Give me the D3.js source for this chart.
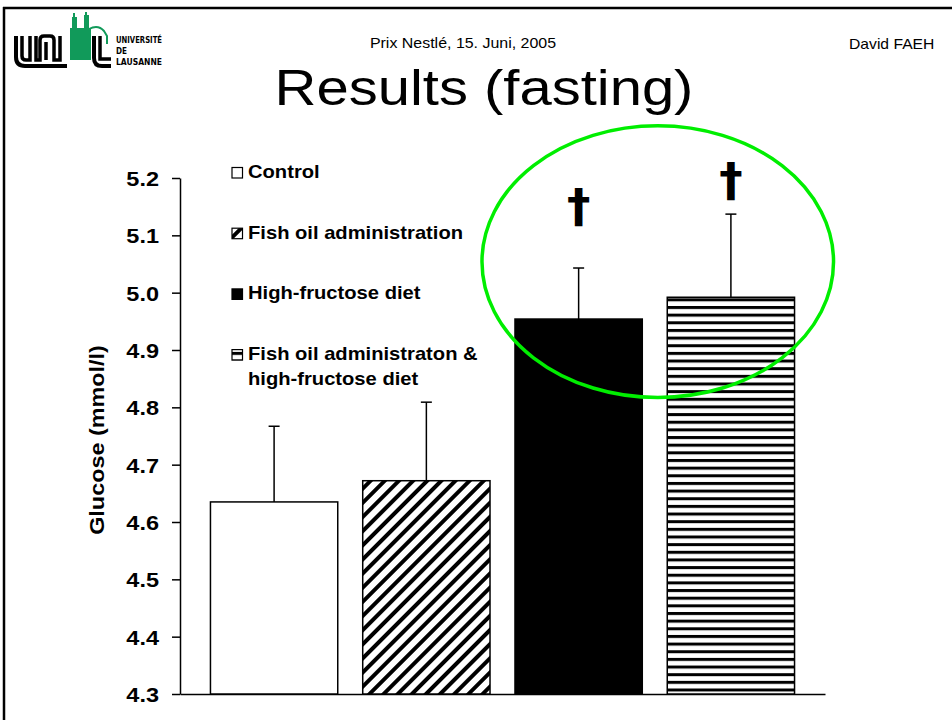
<!DOCTYPE html>
<html>
<head>
<meta charset="utf-8">
<script src="https://cdnjs.cloudflare.com/ajax/libs/d3/7.8.5/d3.min.js"></script>
<style>
  html, body { margin: 0; padding: 0; background: #fff; }
  #chart { width: 952px; height: 720px; }
  text { font-family: "Liberation Sans", Arial, sans-serif; }
</style>
</head>
<body>
<div id="chart"></div>
<script>
// data
var groups = ['Control', 'Fish oil', 'High-fructose', 'Fish oil + high-fructose'];
var means = [4.635, 4.672, 4.954, 4.992];
var sems = [0.132, 0.137, 0.089, 0.145];
var fills = ['white', 'url(#hatchDiag)', 'black', 'url(#hatchHoriz)'];
var marks = ['', '', '\u2020', '\u2020'];
var markValues = [null, null, 5.118, 5.163];
var yTicks = [4.3, 4.4, 4.5, 4.6, 4.7, 4.8, 4.9, 5.0, 5.1, 5.2];
var legendLines = [['Control'], ['Fish oil administration'], ['High-fructose diet'], ['Fish oil administraton &', 'high-fructose diet']];
var highlightCenter = 5.054, highlightHalf = 0.237;

var svgWidth = 952, svgHeight = 720;
var svg = d3.select('#chart')
    .append('svg')
    .attr('width', svgWidth)
    .attr('height', svgHeight);

var defs = svg.append('defs');
var diag = defs.append('pattern')
    .attr('id', 'hatchDiag')
    .attr('patternUnits', 'userSpaceOnUse')
    .attr('width', 10).attr('height', 10)
    .attr('patternTransform', 'rotate(45)');
diag.append('rect').attr('width', 10).attr('height', 10).attr('fill', 'white');
diag.append('rect').attr('width', 4).attr('height', 10).attr('fill', 'black');
var horiz = defs.append('pattern')
    .attr('id', 'hatchHoriz')
    .attr('patternUnits', 'userSpaceOnUse')
    .attr('width', 8).attr('height', 7.65);
horiz.append('rect').attr('width', 8).attr('height', 7.65).attr('fill', 'white');
horiz.append('rect').attr('width', 8).attr('height', 3).attr('fill', 'black');

// slide frame
svg.append('line').attr('x1', 3).attr('x2', svgWidth).attr('y1', 8).attr('y2', 8)
    .attr('stroke', 'black').attr('stroke-width', 2.5);
svg.append('line').attr('x1', 4).attr('x2', 4).attr('y1', 7).attr('y2', svgHeight)
    .attr('stroke', 'black').attr('stroke-width', 2.5);

// stretched text helper (slide fonts are wider than they are tall)
function stretched(g, x, y, sx, anchor, txt, size, weight) {
    return g.append('text')
        .attr('transform', 'translate(' + x + ',' + y + ') scale(' + sx + ',1)')
        .attr('text-anchor', anchor)
        .style('font-size', size + 'px')
        .style('font-weight', weight)
        .style('fill', 'black')
        .text(txt);
}

// header
stretched(svg, 463, 48, 1.14, 'middle', 'Prix Nestlé, 15. Juni, 2005', 14, 'normal');
stretched(svg, 849, 49, 1.12, 'start', 'David FAEH', 14, 'normal');
stretched(svg, 484, 105, 1.16, 'middle', 'Results (fasting)', 50, 'normal');

// logo
var logo = svg.append('g').attr('id', 'logo');
var green = '#119a5a';
logo.append('rect').attr('x', 70).attr('y', 28).attr('width', 21).attr('height', 32).attr('fill', green);
logo.append('rect').attr('x', 72).attr('y', 17).attr('width', 5).attr('height', 12).attr('fill', green);
logo.append('rect').attr('x', 73).attr('y', 13).attr('width', 2).attr('height', 5).attr('fill', green);
logo.append('rect').attr('x', 84).attr('y', 15).attr('width', 5).attr('height', 14).attr('fill', green);
logo.append('rect').attr('x', 85).attr('y', 12).attr('width', 2).attr('height', 4).attr('fill', green);
logo.append('path').attr('d', 'M89,29 Q98,24 104,31 L107,36 V44')
    .attr('fill', 'none').attr('stroke', green).attr('stroke-width', 2);
var ink = 'black';
logo.append('path').attr('d', 'M16,36 V57 Q16,66 25,66 H67')
    .attr('fill', 'none').attr('stroke', ink).attr('stroke-width', 4);
logo.append('path').attr('d', 'M22,36 V56 Q22,60 26,60 H30 V36 M36,36 V60 H40 V40 Q40,36 44,36 H50 Q54,36 54,40 V60 H60 V36')
    .attr('fill', 'none').attr('stroke', ink).attr('stroke-width', 3.5);
logo.append('path').attr('d', 'M46,42 V60')
    .attr('fill', 'none').attr('stroke', ink).attr('stroke-width', 3.5);
logo.append('path').attr('d', 'M94,36 V58 Q94,66 102,66 H111')
    .attr('fill', 'none').attr('stroke', ink).attr('stroke-width', 4);
logo.append('path').attr('d', 'M100,36 V59 H111')
    .attr('fill', 'none').attr('stroke', ink).attr('stroke-width', 3.5);
var logoText = [['UNIVERSITÉ', 43, 46], ['DE', 54, 11], ['LAUSANNE', 65, 46]];
logo.selectAll('.lt').data(logoText).enter().append('text')
    .attr('class', 'lt')
    .attr('x', 116).attr('y', function (d) { return d[1]; })
    .attr('textLength', function (d) { return d[2]; })
    .attr('lengthAdjust', 'spacingAndGlyphs')
    .style('font-family', '"DejaVu Sans", sans-serif')
    .style('font-size', '9px').style('font-weight', 'bold')
    .text(function (d) { return d[0]; });

// scales and axes
var yScale = d3.scaleLinear().domain([4.3, 5.2]).range([694, 178]);
var xScale = d3.scaleBand()
    .domain(groups)
    .range([180, 825])
    .paddingInner(0.164)
    .paddingOuter(0.2);

var gy = svg.append('g').attr('transform', 'translate(180,0)');
gy.call(d3.axisLeft(yScale).tickValues(yTicks).tickFormat(d3.format('.1f')).tickSize(8).tickSizeOuter(0));
gy.select('.domain').attr('stroke-width', 1.5);
gy.selectAll('.tick line').attr('stroke-width', 1.5);
gy.selectAll('.tick text')
    .attr('x', 0).attr('dy', null).attr('y', 7.5)
    .attr('transform', 'translate(-21,0) scale(1.12,1)')
    .style('font-size', '21px').style('font-weight', 'bold')
    .style('font-family', '"Liberation Sans", Arial, sans-serif')
    .attr('fill', 'black');

var gx = svg.append('g').attr('transform', 'translate(0,694)');
gx.call(d3.axisBottom(xScale).tickValues([]).tickSizeOuter(0));
gx.select('.domain').attr('stroke-width', 1.5);

// y label
svg.append('text')
    .attr('transform', 'translate(104,440) rotate(-90) scale(1.17,1)')
    .attr('text-anchor', 'middle')
    .style('font-size', '20px').style('font-weight', 'bold')
    .text('Glucose (mmol/l)');

// bars
var bw = xScale.bandwidth();
svg.append('g').selectAll('rect')
    .data(groups)
    .enter()
    .append('rect')
    .attr('x', function (d) { return xScale(d); })
    .attr('y', function (d, i) { return yScale(means[i]); })
    .attr('width', bw)
    .attr('height', function (d, i) { return yScale(4.3) - yScale(means[i]); })
    .attr('fill', function (d, i) { return fills[i]; })
    .attr('stroke', 'black')
    .attr('stroke-width', 1.5);

// error bars (upper only)
var eg = svg.append('g').attr('stroke', 'black').attr('stroke-width', 1.5);
eg.selectAll('.stem').data(groups).enter().append('line')
    .attr('class', 'stem')
    .attr('x1', function (d) { return xScale(d) + bw / 2; })
    .attr('x2', function (d) { return xScale(d) + bw / 2; })
    .attr('y1', function (d, i) { return yScale(means[i]); })
    .attr('y2', function (d, i) { return yScale(means[i] + sems[i]); });
eg.selectAll('.cap').data(groups).enter().append('line')
    .attr('class', 'cap')
    .attr('x1', function (d) { return xScale(d) + bw / 2 - 5.5; })
    .attr('x2', function (d) { return xScale(d) + bw / 2 + 5.5; })
    .attr('y1', function (d, i) { return yScale(means[i] + sems[i]); })
    .attr('y2', function (d, i) { return yScale(means[i] + sems[i]); });

// significance marks
svg.append('g').selectAll('text')
    .data(groups)
    .enter()
    .filter(function (d, i) { return marks[i] !== ''; })
    .append('text')
    .attr('x', function (d) { return xScale(d) + bw / 2; })
    .attr('y', function (d) { var i = groups.indexOf(d); return yScale(markValues[i]) - 3.5; })
    .attr('text-anchor', 'middle')
    .style('font-family', '"DejaVu Sans", sans-serif')
    .style('font-size', '47px').style('font-weight', 'bold')
    .text(function (d) { return marks[groups.indexOf(d)]; });

// legend
var lg = svg.append('g');
legendLines.forEach(function (lines, i) {
    var by = 178 + i * 60.7;
    lg.append('rect')
        .attr('x', 232).attr('y', by - 10.5)
        .attr('width', 10.5).attr('height', 10.5)
        .attr('fill', fills[i])
        .attr('stroke', 'black').attr('stroke-width', 1.2);
    lines.forEach(function (t, j) {
        stretched(lg, 248, by + j * 25, 1.12, 'start', t, 18, 'bold');
    });
});

// green highlight ellipse around the fructose groups
var cx = (xScale(groups[2]) + xScale(groups[3]) + bw) / 2;
svg.append('ellipse')
    .attr('cx', cx + 3)
    .attr('cy', yScale(highlightCenter))
    .attr('rx', (xScale(groups[3]) + bw - xScale(groups[2])) / 2 + 36)
    .attr('ry', yScale(highlightCenter - highlightHalf) - yScale(highlightCenter))
    .attr('fill', 'none')
    .attr('stroke', '#00ee00')
    .attr('stroke-width', 3.5);
</script>
</body>
</html>
